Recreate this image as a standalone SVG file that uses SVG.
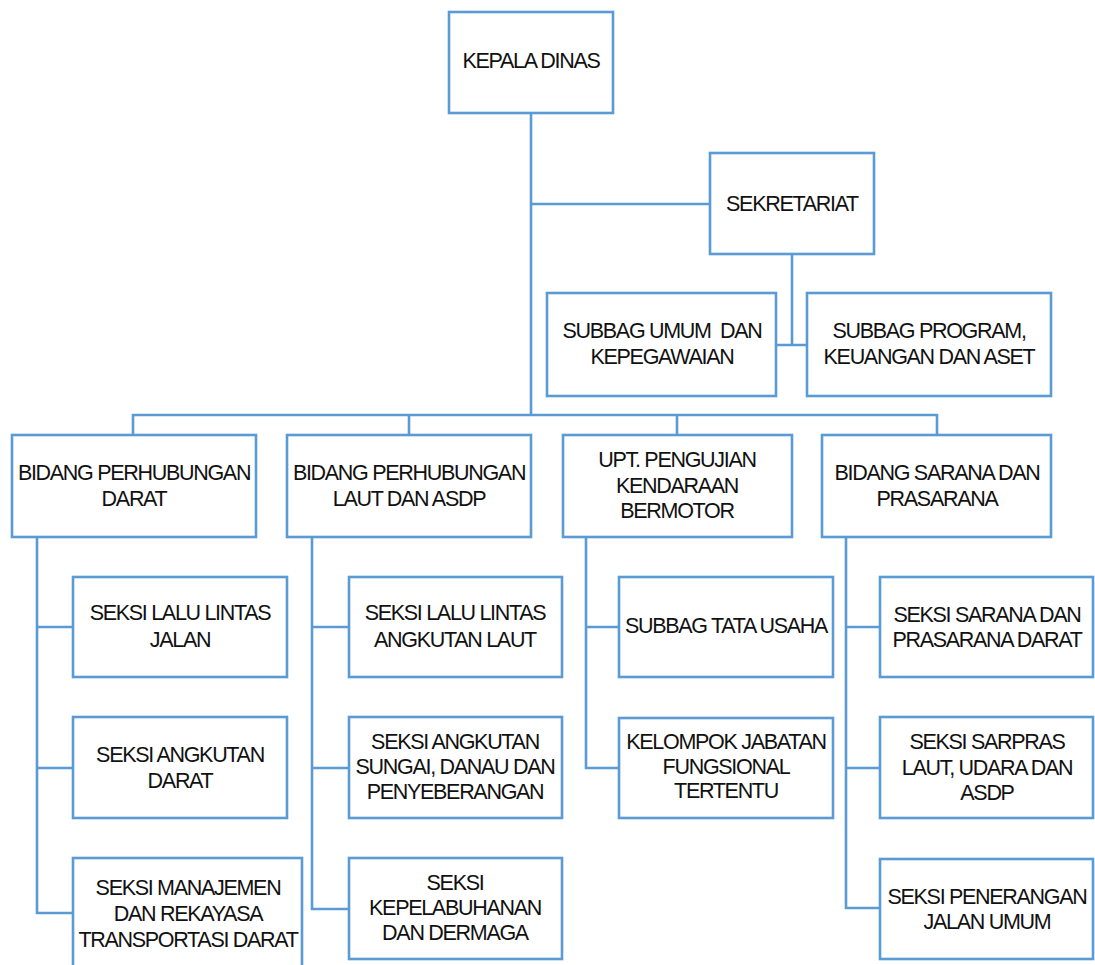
<svg xmlns="http://www.w3.org/2000/svg" width="1095" height="965" viewBox="0 0 1095 965">
<style>
.box{fill:#fff;stroke:#5B9BD5;stroke-width:2.6}
.ln{fill:none;stroke:#5B9BD5;stroke-width:2.6}
text{font-family:"Liberation Sans",Arial,sans-serif;font-size:21.5px;letter-spacing:-1.3px;fill:#111;text-anchor:middle;white-space:pre}
</style>
<rect width="1095" height="965" fill="#fff"/>
<g id="connectors">
<path class="ln" d="M531 113V415M531 204H710M792 254V345M776 345H807"/>
<path class="ln" d="M133 435V415H937V435M409 415V435M677 415V435"/>
<path class="ln" d="M37 537V913H73M37 627H73M37 768H73"/>
<path class="ln" d="M312 537V909H349M312 627H349M312 768H349"/>
<path class="ln" d="M586 537V768H619M586 627H619"/>
<path class="ln" d="M846 537V908H880M846 627H880M846 768H880"/>
</g>
<g id="kepala"><rect class="box" x="449" y="12" width="164" height="101"/><text x="531" y="68">KEPALA DINAS</text></g>
<g id="sekretariat"><rect class="box" x="710" y="153" width="164" height="101"/><text x="792" y="211">SEKRETARIAT</text></g>
<g id="subbag-umum"><rect class="box" x="547" y="293" width="229" height="103"/><text x="662" y="338" xml:space="preserve">SUBBAG UMUM  DAN</text><text x="662" y="364">KEPEGAWAIAN</text></g>
<g id="subbag-program"><rect class="box" x="807" y="293" width="244" height="103"/><text x="929" y="338">SUBBAG PROGRAM,</text><text x="929" y="364">KEUANGAN DAN ASET</text></g>

<g id="bidang-darat"><rect class="box" x="12" y="435" width="244" height="102"/><text x="134" y="480">BIDANG PERHUBUNGAN</text><text x="134" y="506">DARAT</text></g>
<g id="bidang-laut"><rect class="box" x="287" y="435" width="244" height="102"/><text x="409" y="480">BIDANG PERHUBUNGAN</text><text x="409" y="506">LAUT DAN ASDP</text></g>
<g id="upt"><rect class="box" x="563" y="435" width="229" height="102"/><text x="677" y="467">UPT. PENGUJIAN</text><text x="677" y="493">KENDARAAN</text><text x="677" y="518">BERMOTOR</text></g>
<g id="bidang-sarana"><rect class="box" x="822" y="435" width="229" height="102"/><text x="937" y="480">BIDANG SARANA DAN</text><text x="937" y="506">PRASARANA</text></g>

<g id="seksi-llj"><rect class="box" x="73" y="577" width="214" height="100"/><text x="180" y="620">SEKSI LALU LINTAS</text><text x="180" y="647">JALAN</text></g>
<g id="seksi-ad"><rect class="box" x="73" y="717" width="214" height="101"/><text x="180" y="762">SEKSI ANGKUTAN</text><text x="180" y="788">DARAT</text></g>
<g id="seksi-mr"><rect class="box" x="73" y="858" width="229" height="112"/><text x="188" y="895">SEKSI MANAJEMEN</text><text x="188" y="921">DAN REKAYASA</text><text x="188" y="947">TRANSPORTASI DARAT</text></g>

<g id="seksi-llal"><rect class="box" x="349" y="577" width="213" height="100"/><text x="455" y="620">SEKSI LALU LINTAS</text><text x="455" y="647">ANGKUTAN LAUT</text></g>
<g id="seksi-asdp"><rect class="box" x="349" y="717" width="213" height="101"/><text x="455" y="749">SEKSI ANGKUTAN</text><text x="455" y="774">SUNGAI, DANAU DAN</text><text x="455" y="799">PENYEBERANGAN</text></g>
<g id="seksi-kd"><rect class="box" x="349" y="858" width="213" height="101"/><text x="455" y="890">SEKSI</text><text x="455" y="915">KEPELABUHANAN</text><text x="455" y="940">DAN DERMAGA</text></g>

<g id="subbag-tu"><rect class="box" x="619" y="577" width="214" height="100"/><text x="726" y="633">SUBBAG TATA USAHA</text></g>
<g id="kjf"><rect class="box" x="619" y="718" width="214" height="100"/><text x="726" y="749">KELOMPOK JABATAN</text><text x="726" y="774">FUNGSIONAL</text><text x="726" y="798">TERTENTU</text></g>

<g id="seksi-spd"><rect class="box" x="880" y="577" width="213" height="100"/><text x="987" y="622">SEKSI SARANA DAN</text><text x="987" y="647">PRASARANA DARAT</text></g>
<g id="seksi-sarpras"><rect class="box" x="880" y="717" width="213" height="101"/><text x="987" y="749">SEKSI SARPRAS</text><text x="987" y="775">LAUT, UDARA DAN</text><text x="987" y="800">ASDP</text></g>
<g id="seksi-pju"><rect class="box" x="880" y="859" width="213" height="100"/><text x="987" y="904">SEKSI PENERANGAN</text><text x="987" y="929">JALAN UMUM</text></g>
</svg>
